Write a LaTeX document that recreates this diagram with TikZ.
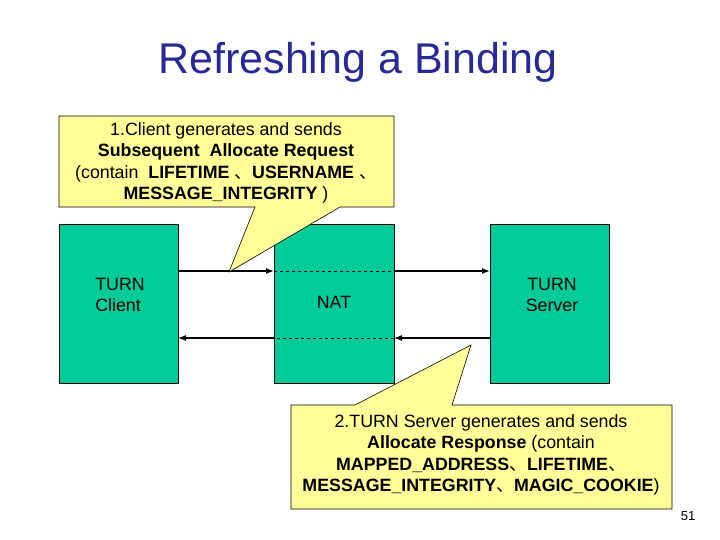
\documentclass[tikz,border=0pt]{standalone}
\usepackage{fontspec}
\setmainfont{Liberation Sans}
\newfontfamily\cjk{Noto Sans CJK SC}
\usetikzlibrary{arrows.meta}
\begin{document}
\begin{tikzpicture}[x=1pt,y=-1pt,
 box/.style={draw=black,fill=teal1,line width=0.6pt},
 call/.style={draw=black,fill=yel,line width=0.6pt},
 arr/.style={line width=1.2pt,-{Latex[length=8pt,width=6pt]}},
 dsh/.style={dashed,line width=0.6pt},
 lbl/.style={font=\fontsize{17.8}{21.5}\selectfont,align=center}]
\definecolor{teal1}{RGB}{0,204,153}
\definecolor{yel}{RGB}{255,255,153}
\definecolor{ttl}{RGB}{40,40,150}
\useasboundingbox (0,0) rectangle (720,540);
\fill[white] (0,0) rectangle (720,540);
\node[font=\fontsize{43}{50}\selectfont,text=ttl] (title) at (358,62) {Refreshing a Binding};
\draw[box] (59,224) rectangle (178,383);
\draw[box] (274,224) rectangle (394,383);
\draw[box] (490,224) rectangle (609,383);
\node[lbl,align=left] (c) at (120,295) {TURN\\Client};
\node[lbl] (n) at (334,302) {NAT};
\node[lbl] (s) at (552,295) {TURN\\Server};
\coordinate (a1) at (178,271); \coordinate (a2) at (274,271);
\coordinate (a3) at (394,271); \coordinate (a4) at (490,271);
\coordinate (b1) at (178,338); \coordinate (b2) at (274,338);
\coordinate (b3) at (394,338); \coordinate (b4) at (490,338);
\draw[arr] (a1) -- (a2); \draw[dsh] (a2) -- (a3); \draw[arr] (a3) -- (a4);
\draw[arr] (b4) -- (b3); \draw[dsh] (b3) -- (b2); \draw[arr] (b2) -- (b1);
\draw[call] (59,116) -- (394,116) -- (394,207) -- (340,207) -- (229,272) -- (255,207) -- (59,207) -- cycle;
\node[lbl] (t1) at (226,163) {1.Client generates and sends\\\textbf{Subsequent\ \ Allocate Request}\\(contain\ \ \textbf{LIFETIME}\ {\cjk 、}\textbf{USERNAME}\ {\cjk 、}\\\textbf{MESSAGE\_INTEGRITY} )};
\draw[call] (291,405) -- (355,405) -- (471,345) -- (452,405) -- (672,405) -- (672,509) -- (291,509) -- cycle;
\node[lbl] (t2) at (481,455) {2.TURN Server generates and sends\\\textbf{Allocate Response} (contain\\\textbf{MAPPED\_ADDRESS}{\cjk 、}\textbf{LIFETIME}{\cjk 、}\\\textbf{MESSAGE\_INTEGRITY}{\cjk 、}\textbf{MAGIC\_COOKIE})};
\node[font=\fontsize{13}{15}\selectfont] (p) at (688,516) {51};
\end{tikzpicture}
\end{document}
